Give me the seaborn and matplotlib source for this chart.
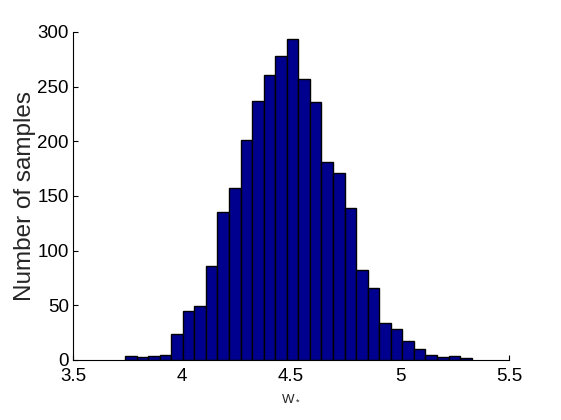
import numpy as np
import pandas as pd
import matplotlib
matplotlib.use("Agg")
import matplotlib.pyplot as plt
import seaborn as sns

# Histogram data
bin_start = 3.7385
bin_end = 5.329
n_bins = 30
counts = [4, 3, 4, 5, 24, 45, 49, 86, 135, 157, 201, 237, 261, 278, 294,
          257, 236, 181, 171, 139, 82, 66, 34, 28, 17, 10, 5, 3, 4, 2]
x_ticks = [3.5, 4, 4.5, 5, 5.5]
x_tick_labels = ["3.5", "4", "4.5", "5", "5.5"]
y_ticks = [0, 50, 100, 150, 200, 250, 300]
x_label = "W$_*$"
y_label = "Number of samples"

sns.set_theme(style="white")
plt.rcParams['font.family'] = ['Liberation Sans', 'DejaVu Sans']
plt.rcParams['mathtext.fontset'] = 'custom'
plt.rcParams['mathtext.rm'] = 'Liberation Sans'
plt.rcParams['mathtext.it'] = 'Liberation Sans'

edges = np.linspace(bin_start, bin_end, n_bins + 1)
centers = (edges[:-1] + edges[1:]) / 2
df = pd.DataFrame({"w": centers, "count": counts})

fig = plt.figure(figsize=(5.61, 4.20), dpi=100)
ax = fig.add_axes([73 / 561, 60 / 420, 436 / 561, 328 / 420])

sns.histplot(data=df, x="w", weights="count", bins=edges.tolist(), ax=ax,
             color="#00008f", edgecolor="black", linewidth=1.0, alpha=1.0)

ax.set_xlim(3.5, 5.5)
ax.set_ylim(0, 300)
ax.set_xticks(x_ticks)
ax.set_xticklabels(x_tick_labels)
ax.set_yticks(y_ticks)
for s in ["top", "right"]:
    ax.spines[s].set_visible(False)
for s in ["left", "bottom"]:
    ax.spines[s].set_color("black")
    ax.spines[s].set_linewidth(0.8)
ax.tick_params(axis="both", direction="in", length=3.6, width=0.8,
               colors="black", labelsize=13.5, bottom=True, left=True)
ax.tick_params(axis="x", pad=6)
ax.tick_params(axis="y", pad=3)
ax.set_xlabel(x_label, fontsize=9.5, labelpad=5)
ax.set_ylabel(y_label, fontsize=17.5, labelpad=1)

fig.savefig("out.png", dpi=100)
